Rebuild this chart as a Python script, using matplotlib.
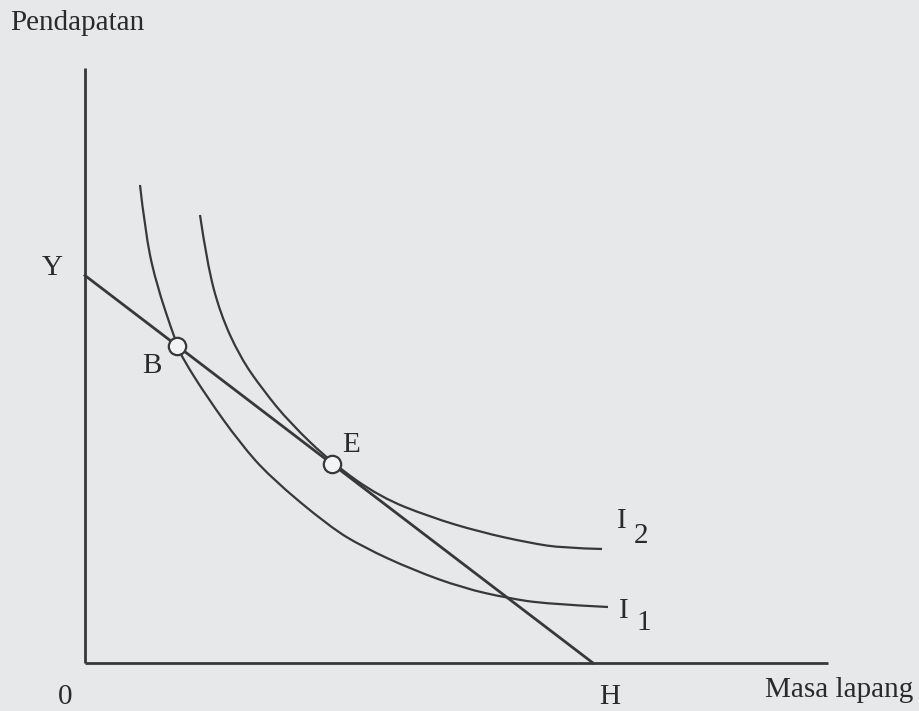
import matplotlib
matplotlib.use("Agg")
import matplotlib.pyplot as plt
from matplotlib.path import Path
from matplotlib.patches import PathPatch

# ---- data (arbitrary units: hours of leisure vs income) ----
axis_x_end = 14.86
axis_y_end = 11.9

budget_x = [0.0, 10.16]
budget_y = [7.75, 0.0]

i1_x = [1.10, 1.20, 1.40, 1.84, 1.96, 2.44, 3.10, 3.70, 4.90, 5.56, 6.56, 7.56, 8.44, 9.24, 10.46]
i1_y = [9.56, 8.66, 7.66, 6.35, 6.08, 5.32, 4.40, 3.72, 2.72, 2.32, 1.86, 1.50, 1.30, 1.18, 1.12]

i2_x = [2.30, 2.44, 2.70, 3.10, 3.56, 4.10, 4.94, 5.90, 6.90, 7.90, 8.90, 9.56, 10.34]
i2_y = [8.96, 8.00, 7.00, 6.12, 5.46, 4.80, 4.00, 3.32, 2.92, 2.62, 2.40, 2.30, 2.28]

points_x = [1.84, 4.94]
points_y = [6.35, 3.98]
point_labels = ["B", "E"]

ylabel = "Pendapatan"
xlabel = "Masa lapang"

# ---- style ----
bg = "#e7e8ea"
ink = "#383838"
txt = "#2a2a2a"
font = ["Liberation Serif", "DejaVu Serif"]
fs = 21


def smooth_path(xs, ys):
    """Quadratic Bezier path using the data points as control points."""
    pts = list(zip(xs, ys))
    verts = [pts[0]]
    codes = [Path.MOVETO]
    for i in range(1, len(pts) - 1):
        mid = ((pts[i][0] + pts[i + 1][0]) / 2, (pts[i][1] + pts[i + 1][1]) / 2)
        if i == len(pts) - 2:
            mid = pts[-1]
        verts += [pts[i], mid]
        codes += [Path.CURVE3, Path.CURVE3]
    return Path(verts, codes)


fig = plt.figure(figsize=(9.19, 7.11), dpi=100, facecolor=bg)
ax = fig.add_axes([0, 0, 1, 1])
ax.set_facecolor(bg)
ax.set_xlim(-1.70, 16.68)
ax.set_ylim(-0.96, 13.26)
ax.axis("off")

# axes
ax.plot([0, 0], [0, axis_y_end], color=ink, lw=2.0, solid_capstyle="butt")
ax.plot([0, axis_x_end], [0, 0], color=ink, lw=2.0, solid_capstyle="butt")

# curves
for cx, cy in [(i1_x, i1_y), (i2_x, i2_y)]:
    ax.add_patch(PathPatch(smooth_path(cx, cy), fill=False, edgecolor=ink, lw=1.6))
ax.plot(budget_x, budget_y, color=ink, lw=2.0)

ax.plot(points_x, points_y, "o", ms=12.5, mfc="#f2f3f4", mec=ink, mew=1.6, zorder=5)

kw = dict(family=font, fontsize=fs, color=txt)
ax.text(-1.5, 12.66, ylabel, ha="left", va="baseline", **kw)
ax.text(-0.66, 7.76, "Y", ha="center", va="baseline", **kw)
ax.text(1.34, 5.80, point_labels[0], ha="center", va="baseline", **kw)
ax.text(5.32, 4.22, point_labels[1], ha="center", va="baseline", **kw)
ax.text(10.74, 2.70, "I", ha="center", va="baseline", **kw)
ax.text(11.12, 2.40, "2", ha="center", va="baseline", **kw)
ax.text(10.78, 0.90, "I", ha="center", va="baseline", **kw)
ax.text(11.18, 0.66, "1", ha="center", va="baseline", **kw)
ax.text(10.50, -0.82, "H", ha="center", va="baseline", **kw)
ax.text(13.60, -0.68, xlabel, ha="left", va="baseline", **kw)
ax.text(-0.40, -0.82, "0", ha="center", va="baseline", **kw)

fig.savefig("out.png", dpi=100, facecolor=bg)
